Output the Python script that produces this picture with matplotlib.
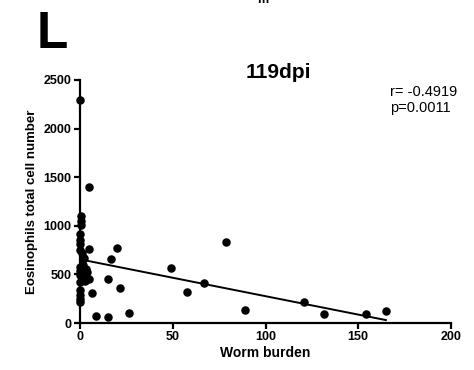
import matplotlib
matplotlib.use("Agg")
import matplotlib.pyplot as plt
import numpy as np

plt.rcParams['font.family'] = ['Liberation Sans', 'DejaVu Sans']

# Data (worm burden vs eosinophil count)
worm_burden = [0, 0.8, 0.5, 0.8, 0, 0, 0, 0, 1.0, 2.0, 0, 0, 0, 0, 0, 0, 0, 0,
               4.6, 4.6, 1.8, 3.0, 4.0, 3.5, 2.5, 5.0, 1.5,
               19.8, 16.8, 48.8, 57.8, 14.9, 21.6, 6.5, 8.6, 14.9, 26.6,
               78.9, 66.8, 89.0, 120.9, 131.7, 154.0, 164.9]
eosinophils = [2290, 1100, 1050, 1010, 920, 850, 810, 750, 720, 670, 580, 540, 490, 420, 340, 290, 250, 220,
               1400, 765, 660, 560, 520, 480, 430, 450, 600,
               775, 659, 563, 322, 450, 357, 312, 72, 65, 100,
               833, 412, 137, 213, 90, 96, 123]

# Linear regression line shown in the reference
fit_intercept = 655.0
fit_slope = -3.79

x_ticks = [0, 50, 100, 150, 200]
y_ticks = [0, 500, 1000, 1500, 2000, 2500]

W, H = 474, 370
fig = plt.figure(figsize=(W / 100, H / 100), dpi=100)
ax = fig.add_axes([80 / W, (H - 323) / H, 371 / W, 243 / H])

ax.scatter(worm_burden, eosinophils, s=26, color='black', zorder=3, clip_on=False)
xs = np.array([min(worm_burden), max(worm_burden)])
ax.plot(xs, fit_intercept + fit_slope * xs, color='black', lw=1.4, zorder=2)

ax.set_xlim(0, 200)
ax.set_ylim(0, 2500)
ax.set_xticks(x_ticks)
ax.set_yticks(y_ticks)
ax.spines['top'].set_visible(False)
ax.spines['right'].set_visible(False)
for s in ['left', 'bottom']:
    ax.spines[s].set_linewidth(1.6)
ax.tick_params(direction='out', length=4, width=1.6, labelsize=9, pad=2)
for lab in ax.get_xticklabels() + ax.get_yticklabels():
    lab.set_fontweight('bold')

ax.set_xlabel('Worm burden', fontsize=10, fontweight='bold', labelpad=2)
ax.set_ylabel('Eosinophils total cell number', fontsize=9.5, fontweight='bold', labelpad=4)

fig.text(278 / W, 1 - 73 / H, '119dpi', fontsize=15, fontweight='bold', ha='center', va='center')
fig.text(37 / W, 1 - 35 / H, 'L', fontsize=37, fontweight='bold', ha='left', va='center')
fig.text(390 / W, 1 - 92 / H, 'r= -0.4919', fontsize=10.5, ha='left', va='center')
fig.text(390 / W, 1 - 108 / H, 'p=0.0011', fontsize=10.5, ha='left', va='center')
fig.text(263 / W, 1 - 3 / H, 'm', fontsize=9, fontweight='bold', ha='center', va='baseline')

fig.savefig('out.png', dpi=100)
